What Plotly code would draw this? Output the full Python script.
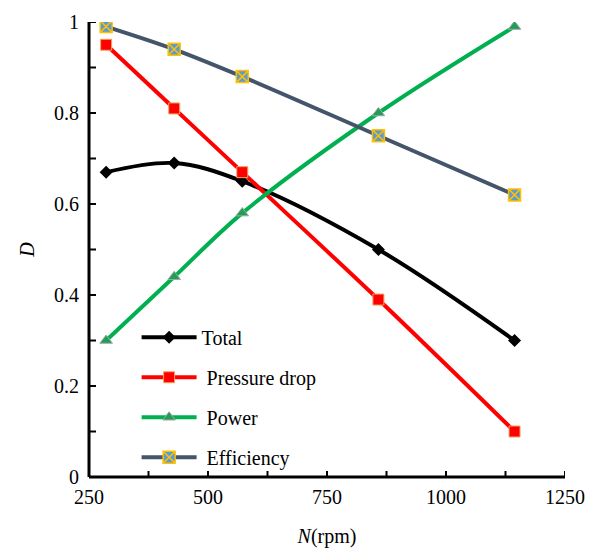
import plotly.graph_objects as go

rpm = [286, 429, 572, 858, 1144]
total = [0.67, 0.69, 0.65, 0.50, 0.30]
pressure = [0.95, 0.81, 0.67, 0.39, 0.10]
power = [0.30, 0.44, 0.58, 0.80, 0.99]
efficiency = [0.99, 0.94, 0.88, 0.75, 0.62]

names = ["Total", " Pressure drop", " Power", " Efficiency"]
x_ticks = [250, 500, 750, 1000, 1250]
x_minor = [375, 625, 875, 1125]
y_ticks = [0, 0.2, 0.4, 0.6, 0.8, 1]
y_minor = [0.1, 0.3, 0.5, 0.7, 0.9]

FONT = "Liberation Serif"

fig = go.Figure()
fig.add_trace(go.Scatter(x=rpm, y=total, name=names[0], legendgroup="a",
                         mode="lines+markers", line=dict(color="black", width=4, shape="spline"),
                         marker=dict(symbol="diamond", size=10, color="black")))
fig.add_trace(go.Scatter(x=rpm, y=pressure, name=names[1], legendgroup="b",
                         mode="lines+markers", line=dict(color="#FF0000", width=4, shape="spline"),
                         marker=dict(symbol="square", size=11, color="#FF0000",
                                     line=dict(color="#F4A460", width=1))))
fig.add_trace(go.Scatter(x=rpm, y=power, name=names[2], legendgroup="c",
                         mode="lines+markers", line=dict(color="#00B050", width=4, shape="spline"),
                         marker=dict(symbol="triangle-up", size=11, color="#1F9E55",
                                     line=dict(color="#A6A6A6", width=1))))
fig.add_trace(go.Scatter(x=rpm, y=efficiency, name=names[3], legendgroup="d",
                         mode="lines+markers", line=dict(color="#44546A", width=4, shape="spline"),
                         marker=dict(symbol="square-x", size=12, color="#5B9BD5",
                                     line=dict(color="#FFC000", width=1.5))))

# axis lines (paper coordinates) and tick marks placed through the axes
shapes = [
    dict(type="line", xref="paper", yref="paper", x0=0, x1=1, y0=0, y1=0,
         line=dict(color="black", width=3), layer="above"),
    dict(type="line", xref="paper", yref="paper", x0=0, x1=0, y0=0, y1=1,
         line=dict(color="black", width=3), layer="above"),
]
for v in x_ticks + x_minor:
    shapes.append(dict(type="line", xref="x", x0=v, x1=v,
                       yref="paper", ysizemode="pixel", yanchor=0, y0=0, y1=6,
                       line=dict(color="black", width=2), layer="above"))
for v in y_ticks + y_minor:
    shapes.append(dict(type="line", yref="y", y0=v, y1=v,
                       xref="paper", xsizemode="pixel", xanchor=0, x0=0, x1=7,
                       line=dict(color="black", width=2), layer="above"))

fig.update_layout(
    width=580, height=540,
    margin=dict(l=81, r=23, t=14, b=71),
    paper_bgcolor="white", plot_bgcolor="white",
    font=dict(family=FONT, size=20, color="black"),
    showlegend=True,
    shapes=shapes,
    legend=dict(x=0.1, y=0.35, xanchor="left", yanchor="top",
                bgcolor="rgba(0,0,0,0)", tracegroupgap=11, itemwidth=55,
                font=dict(family=FONT, size=20)),
    xaxis=dict(range=[250, 1250], tickmode="array", tickvals=x_ticks, ticks="",
               showline=False, showgrid=False, zeroline=False, automargin=False,
               ticklabelstandoff=6,
               title=dict(text="<i>N</i>(rpm)", font=dict(family=FONT, size=20), standoff=24)),
    yaxis=dict(range=[0, 1], tickmode="array", tickvals=y_ticks, ticks="",
               showline=False, showgrid=False, zeroline=False, automargin=False,
               ticklabelstandoff=9,
               title=dict(text="<i>D</i>", font=dict(family=FONT, size=20), standoff=14)),
)

fig.write_html("out.html")
